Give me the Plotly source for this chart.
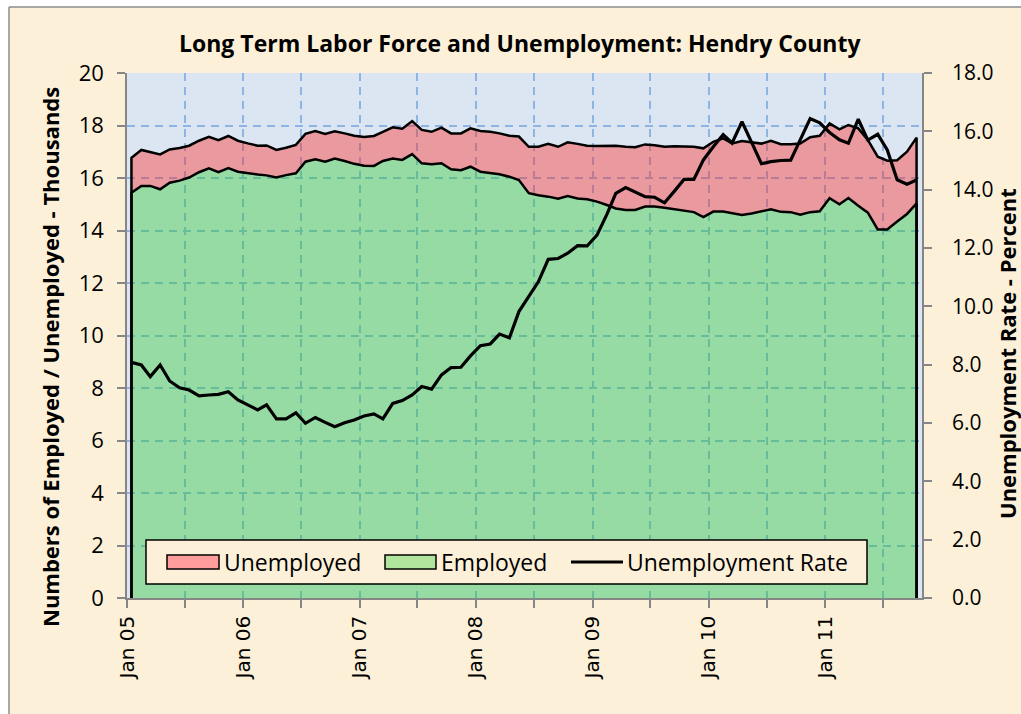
import plotly.graph_objects as go
import pandas as pd

# ---------------- data ----------------
months = pd.date_range("2005-01-01", periods=82, freq="MS")  # Jan 2005 .. Oct 2011

employed = [
    15.44, 15.70, 15.70, 15.57, 15.82, 15.90, 16.02, 16.22, 16.37, 16.22, 16.38, 16.24,
    16.18, 16.13, 16.10, 16.02, 16.11, 16.18, 16.62, 16.71, 16.62, 16.74, 16.65, 16.54,
    16.47, 16.46, 16.65, 16.74, 16.69, 16.91, 16.56, 16.52, 16.56, 16.33, 16.30, 16.43,
    16.24, 16.20, 16.14, 16.05, 15.92, 15.42, 15.34, 15.29, 15.21, 15.31, 15.22, 15.19,
    15.10, 14.97, 14.84, 14.78, 14.78, 14.91, 14.91, 14.87, 14.82, 14.76, 14.70, 14.51,
    14.72, 14.72, 14.65, 14.59, 14.65, 14.72, 14.81, 14.71, 14.70, 14.60, 14.70, 14.73,
    15.23, 15.00, 15.24, 14.94, 14.68, 14.04, 14.04, 14.34, 14.63, 15.03,
]

unemployed = [
    1.33, 1.37, 1.29, 1.33, 1.27, 1.24, 1.21, 1.20, 1.20, 1.22, 1.22, 1.18,
    1.14, 1.10, 1.14, 1.05, 1.04, 1.08, 1.06, 1.08, 1.06, 1.04, 1.05, 1.07,
    1.09, 1.14, 1.11, 1.19, 1.19, 1.26, 1.27, 1.24, 1.36, 1.37, 1.40, 1.46,
    1.55, 1.56, 1.56, 1.56, 1.66, 1.77, 1.85, 2.01, 1.98, 2.05, 2.08, 2.04,
    2.12, 2.25, 2.39, 2.41, 2.39, 2.37, 2.34, 2.32, 2.39, 2.44, 2.49, 2.62,
    2.66, 2.79, 2.67, 2.82, 2.71, 2.59, 2.61, 2.58, 2.59, 2.71, 2.85, 2.88,
    2.85, 2.85, 2.78, 2.95, 2.77, 2.77, 2.62, 2.34, 2.37, 2.51,
]

unemployment_rate = [
    8.08, 7.99, 7.59, 7.99, 7.44, 7.21, 7.13, 6.93, 6.96, 6.98, 7.07, 6.79,
    6.62, 6.45, 6.62, 6.14, 6.14, 6.35, 5.99, 6.19, 6.02, 5.87, 6.01, 6.10,
    6.24, 6.31, 6.14, 6.67, 6.77, 6.96, 7.25, 7.16, 7.65, 7.90, 7.91, 8.30,
    8.65, 8.71, 9.05, 8.92, 9.82, 10.33, 10.84, 11.61, 11.64, 11.82, 12.08, 12.07,
    12.44, 13.15, 13.87, 14.07, 13.93, 13.76, 13.74, 13.55, 13.95, 14.35, 14.35, 15.02,
    15.47, 15.89, 15.60, 16.33, 15.63, 14.89, 14.96, 15.00, 15.01, 15.73, 16.44, 16.29,
    15.96, 15.71, 15.59, 16.42, 15.70, 15.90, 15.36, 14.34, 14.19, 14.33,
]

year_tick_dates = ["2005-01-01", "2006-01-01", "2007-01-01", "2008-01-01",
                   "2009-01-01", "2010-01-01", "2011-01-01"]
year_tick_labels = ["Jan 05", "Jan 06", "Jan 07", "Jan 08", "Jan 09", "Jan 10", "Jan 11"]
half_year_dates = ["2005-07-01", "2006-07-01", "2007-07-01", "2008-07-01",
                   "2009-07-01", "2010-07-01", "2011-07-01"]

series_names = ["Unemployed", "Employed", "Unemployment Rate"]

# ---------------- derived ----------------
x_mid = list(months + pd.Timedelta(days=14))
labor_force = [e + u for e, u in zip(employed, unemployed)]
x_area = [x_mid[0]] + x_mid + [x_mid[-1]]
y_emp = [0] + employed + [0]
y_lf = [0] + labor_force + [0]

BEIGE = "#FCF1D8"
GRID = "#8DB4E2"
AXC = "#868686"
FONT = "Open Sans"
RED_FILL = "rgba(255,40,32,0.40)"
GREEN_FILL = "rgba(48,202,47,0.40)"
RED_SWATCH = "#FF9C9C"
GREEN_SWATCH = "#B1E59E"

# layout geometry (pixels)
W, H = 1021, 714
ML, MR, MT, MB = 127, 99, 73, 116
PW, PH = W - ML - MR, H - MT - MB


def px(x):
    return (x - ML) / PW


def py(y):
    return (H - MB - y) / PH


fig = go.Figure()

fig.add_trace(go.Scatter(
    x=x_area, y=y_emp, name=series_names[1], mode="lines",
    fill="tozeroy", fillcolor=GREEN_FILL,
    line=dict(color="black", width=2.5), showlegend=False, hoverinfo="skip",
))
fig.add_trace(go.Scatter(
    x=x_area, y=y_lf, name=series_names[0], mode="lines",
    fill="tonexty", fillcolor=RED_FILL,
    line=dict(color="black", width=2.5), showlegend=False, hoverinfo="skip",
))
fig.add_trace(go.Scatter(
    x=x_mid, y=unemployment_rate, name=series_names[2], mode="lines",
    line=dict(color="black", width=3.2), yaxis="y2", showlegend=False,
))

shapes = [
    # white strips outside the chart frame
    dict(type="rect", xref="paper", yref="paper", layer="below",
         x0=px(-20), x1=px(9), y0=py(H + 20), y1=py(-20),
         fillcolor="white", line=dict(width=0)),
    dict(type="rect", xref="paper", yref="paper", layer="below",
         x0=px(-20), x1=px(W + 20), y0=py(7), y1=py(-20),
         fillcolor="white", line=dict(width=0)),
    dict(type="line", xref="paper", yref="paper",
         x0=px(9), x1=px(9), y0=py(7), y1=py(H + 5),
         line=dict(color="#8C8C8C", width=1.5)),
    dict(type="line", xref="paper", yref="paper",
         x0=px(9), x1=px(W + 5), y0=py(7), y1=py(7),
         line=dict(color="#8C8C8C", width=1.5)),
    # legend box
    dict(type="rect", xref="paper", yref="paper", layer="above",
         x0=px(146), x1=px(867), y0=py(584), y1=py(540),
         fillcolor=BEIGE, line=dict(color="black", width=1.5)),
    dict(type="rect", xref="paper", yref="paper", layer="above",
         x0=px(167), x1=px(219), y0=py(569), y1=py(555),
         fillcolor=RED_SWATCH, line=dict(color="black", width=1.5)),
    dict(type="rect", xref="paper", yref="paper", layer="above",
         x0=px(385), x1=px(436), y0=py(569), y1=py(555),
         fillcolor=GREEN_SWATCH, line=dict(color="black", width=1.5)),
    dict(type="line", xref="paper", yref="paper", layer="above",
         x0=px(571), x1=px(623), y0=py(562), y1=py(562),
         line=dict(color="black", width=3)),
]

annotations = [
    dict(text="<b>Long Term Labor Force and Unemployment: Hendry County</b>",
         xref="paper", yref="paper", x=px(520), y=py(43),
         xanchor="center", yanchor="middle", showarrow=False,
         font=dict(family=FONT, size=23, color="black")),
    dict(text="<b>Numbers of Employed / Unemployed - Thousands</b>",
         xref="paper", yref="paper", x=px(50), y=py(357),
         xanchor="center", yanchor="middle", textangle=-90, showarrow=False,
         font=dict(family=FONT, size=22, color="black")),
    dict(text="<b>Unemployment Rate - Percent</b>",
         xref="paper", yref="paper", x=px(1007), y=py(354),
         xanchor="center", yanchor="middle", textangle=-90, showarrow=False,
         font=dict(family=FONT, size=22, color="black")),
]
for name, xl in zip(series_names, [222, 439, 625]):
    annotations.append(dict(
        text=name, xref="paper", yref="paper", x=px(xl), y=py(562),
        xanchor="left", yanchor="middle", showarrow=False,
        font=dict(family=FONT, size=23, color="black")))

fig.update_layout(
    width=W, height=H,
    margin=dict(l=ML, r=MR, t=MT, b=MB),
    paper_bgcolor=BEIGE,
    plot_bgcolor="#DCE6F2",
    font=dict(family=FONT, color="black"),
    showlegend=False,
    xaxis=dict(
        type="date", range=["2005-01-01", "2011-11-01"],
        tickmode="array", tickvals=year_tick_dates, ticktext=year_tick_labels,
        tickangle=-90, ticks="outside", ticklen=8, tickcolor=AXC, tickwidth=1.5,
        tickfont=dict(family="DejaVu Sans", size=20, color="black"),
        showline=True, linecolor=AXC, linewidth=1.5,
        showgrid=True, gridcolor=GRID, gridwidth=1.5, griddash="8px,6px",
        minor=dict(tickvals=half_year_dates, ticks="outside", ticklen=8,
                   tickcolor=AXC, tickwidth=1.5,
                   showgrid=True, gridcolor=GRID, gridwidth=1.5, griddash="8px,6px"),
        zeroline=False, fixedrange=True,
    ),
    yaxis=dict(
        range=[0, 20], dtick=2, tick0=0,
        ticks="outside", ticklen=8, tickcolor=AXC, tickwidth=1.5,
        tickfont=dict(family=FONT, size=22, color="black"),
        ticklabelstandoff=9,
        showline=True, linecolor=AXC, linewidth=1.5,
        showgrid=True, gridcolor=GRID, gridwidth=1.5, griddash="8px,6px",
        zeroline=False,
    ),
    yaxis2=dict(
        overlaying="y", side="right", range=[0, 18], dtick=2, tick0=0,
        tickformat=".1f",
        ticks="outside", ticklen=8, tickcolor=AXC, tickwidth=1.5,
        tickfont=dict(family=FONT, size=21, color="black"),
        ticklabelstandoff=16,
        showline=True, linecolor=AXC, linewidth=1.5,
        showgrid=False, zeroline=False,
    ),
    shapes=shapes,
    annotations=annotations,
)

fig.write_html("out.html", config={"displayModeBar": False},
               post_script="document.body.style.margin='0';")
